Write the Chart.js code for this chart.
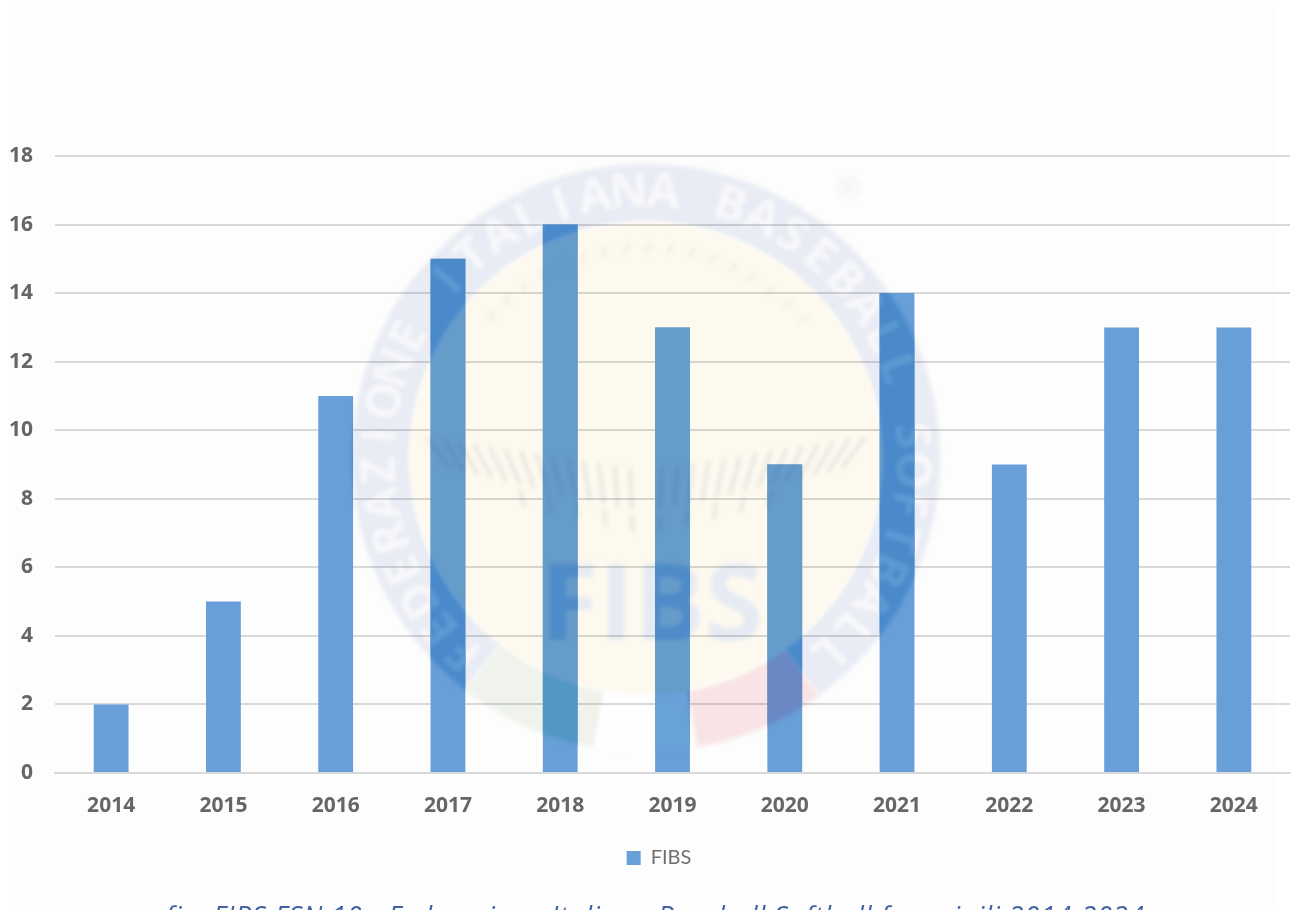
<!DOCTYPE html>
<html><head><meta charset="utf-8">
<script src="https://cdn.jsdelivr.net/npm/chart.js@4"></script>
<style>
html,body{margin:0;padding:0;width:1292px;height:910px;overflow:hidden;background:#fff}
#panel{position:absolute;left:8px;top:7px;width:1269px;height:903px;background:#fdfdfd}
#wrap{position:absolute;left:0;top:0;width:1292px;height:910px}
canvas{filter:blur(0.45px)}
#caption{position:absolute;left:0;top:894px;width:1310px;text-align:center;white-space:nowrap;
font:italic 27px "Open Sans",sans-serif;letter-spacing:0.95px;color:#3f62a3;line-height:44px}
</style></head><body>
<div id="panel"></div>
<div id="wrap"><canvas id="c" width="1292" height="910"></canvas></div>
<div id="caption">fig. FIBS FSN 10 - Federazione Italiana Baseball Softball femminili 2014-2024</div>
<script>
const years = ['2014','2015','2016','2017','2018','2019','2020','2021','2022','2023','2024'];
const fibs = [2,5,11,15,16,13,9,14,9,13,13];
const seriesName = 'FIBS';
const yTicks = {min:0,max:18,step:2};

const PALE = {ring:'#e9ecf4',cream:'#fdf9ef',letters:'#f8f8fb',fibs:'#e6ebf3',stitch:'#e4e2dd',tick:'#f0ebdf',
  green:'#eff3ec',white:'#fefefe',red:'#f9e4e5',mark:'#f0f0f4'};
const ONBAR = {ring:'#4a8acb',cream:'#669cc9',letters:'#5e9ad3',fibs:'#4f8bc9',stitch:'#5c90bf',tick:'#609ac9',
  green:'#5397c4',white:'#69a1d9',red:'#6a88c4',mark:'#689fd8'};
const RING_TEXT = 'FEDERAZIONE ITALIANA BASEBALL SOFTBALL';

function sector(ctx,cx,cy,r1,r2,a1,a2,color){
  ctx.fillStyle=color;ctx.beginPath();
  ctx.arc(cx,cy,r2,a1,a2);ctx.arc(cx,cy,r1,a2,a1,true);ctx.closePath();ctx.fill();
}
function drawWatermark(ctx,p){
  const cx=646,cy=458,R=294,r=236,rad=Math.PI/180;
  ctx.save();
  ctx.filter='blur(2px)';
  sector(ctx,cx,cy,r,R,128*rad,414*rad,p.ring);
  sector(ctx,cx,cy,r,R,100*rad,128*rad,p.green);
  sector(ctx,cx,cy,r,R,80*rad,100*rad,p.white);
  sector(ctx,cx,cy,r,R,54*rad,80*rad,p.red);
  ctx.fillStyle=p.cream;ctx.beginPath();ctx.arc(cx,cy,r,0,Math.PI*2);ctx.fill();
  // ring lettering
  ctx.fillStyle=p.letters;ctx.font='bold 48px "Open Sans",sans-serif';
  ctx.textAlign='center';ctx.textBaseline='middle';
  const start=-137,end=137,n=RING_TEXT.length;
  for(let i=0;i<n;i++){
    const a=(start+(end-start)*i/(n-1))*rad;
    ctx.save();ctx.translate(cx+Math.sin(a)*265,cy-Math.cos(a)*265);ctx.rotate(a);
    ctx.fillText(RING_TEXT[i],0,0);ctx.restore();
  }
  // seam stitches
  ctx.strokeStyle=p.stitch;ctx.lineWidth=3;
  [-1,1].forEach(s=>{
    for(let k=0;k<14;k++){
      const x=cx+s*(14+k*14), top=468-k*2.4, len=42-k*0.8, lean=s*(2+k*1.6);
      ctx.beginPath();ctx.moveTo(x+lean,top);ctx.lineTo(x,top+len);ctx.stroke();
      if(k%2===0 && k<10){ctx.beginPath();ctx.moveTo(x,top+len+6);ctx.lineTo(x-lean*0.3,top+len+22);ctx.stroke();}
    }
  });
  ctx.strokeStyle=p.tick;
  for(let k=-8;k<=8;k++){
    const a=k*6*rad;
    ctx.beginPath();ctx.moveTo(cx+Math.sin(a)*205,cy-Math.cos(a)*205);
    ctx.lineTo(cx+Math.sin(a+.02)*215,cy-Math.cos(a+.02)*215);ctx.stroke();
  }
  // wordmark
  ctx.fillStyle=p.fibs;ctx.font='bold 106px "Open Sans",sans-serif';
  ctx.textBaseline='alphabetic';ctx.fillText('FIBS',652,640);
  ctx.fillStyle=p.mark;ctx.font='30px "Open Sans",sans-serif';ctx.fillText('®',849,198);
  ctx.restore();
}
const watermark={id:'watermark',
  afterLayout(chart){chart.legend.left+=28;},
  beforeDatasetsDraw(chart){
    const off=document.createElement('canvas');off.width=chart.width;off.height=chart.height;
    drawWatermark(off.getContext('2d'),PALE);
    const ctx=chart.ctx;ctx.save();ctx.globalCompositeOperation='multiply';
    ctx.drawImage(off,0,0);ctx.restore();
  },
  afterDatasetsDraw(chart){
    const ctx=chart.ctx;ctx.save();ctx.beginPath();
    chart.getDatasetMeta(0).data.forEach(b=>{
      const q=b.getProps(['x','y','base','width'],true);
      ctx.rect(q.x-q.width/2,q.y,q.width,q.base-q.y);
    });
    ctx.clip();drawWatermark(ctx,ONBAR);ctx.restore();
  }
};
new Chart(document.getElementById('c'),{
  type:'bar',
  data:{labels:years,datasets:[{label:seriesName,data:fibs,backgroundColor:'#689fd8',borderWidth:0,
    barPercentage:0.31,categoryPercentage:1}]},
  options:{
    responsive:false,animation:false,
    layout:{padding:{left:0,right:2,top:156,bottom:32}},
    plugins:{
      legend:{position:'bottom',labels:{boxWidth:14,boxHeight:14,padding:25,color:'#707070',
        font:{family:'"Lato",sans-serif',size:20,weight:'normal'}}},
      tooltip:{enabled:false}
    },
    scales:{
      x:{
        grid:{display:false,drawTicks:false},
        border:{color:'#d9d9d9',width:2},
        ticks:{color:'#666',font:{family:'"Open Sans",sans-serif',size:21,weight:'bold'},padding:20,maxRotation:0},
        afterFit(s){s.height=50;}
      },
      y:{
        min:yTicks.min,max:yTicks.max,
        ticks:{stepSize:yTicks.step,color:'#666',font:{family:'"Open Sans",sans-serif',size:21,weight:'bold'},padding:22},
        grid:{color:'#d9d9d9',lineWidth:2,drawTicks:false},
        border:{display:false},
        afterFit(s){s.width=55;}
      }
    }
  },
  plugins:[watermark]
});
</script>
</body></html>
